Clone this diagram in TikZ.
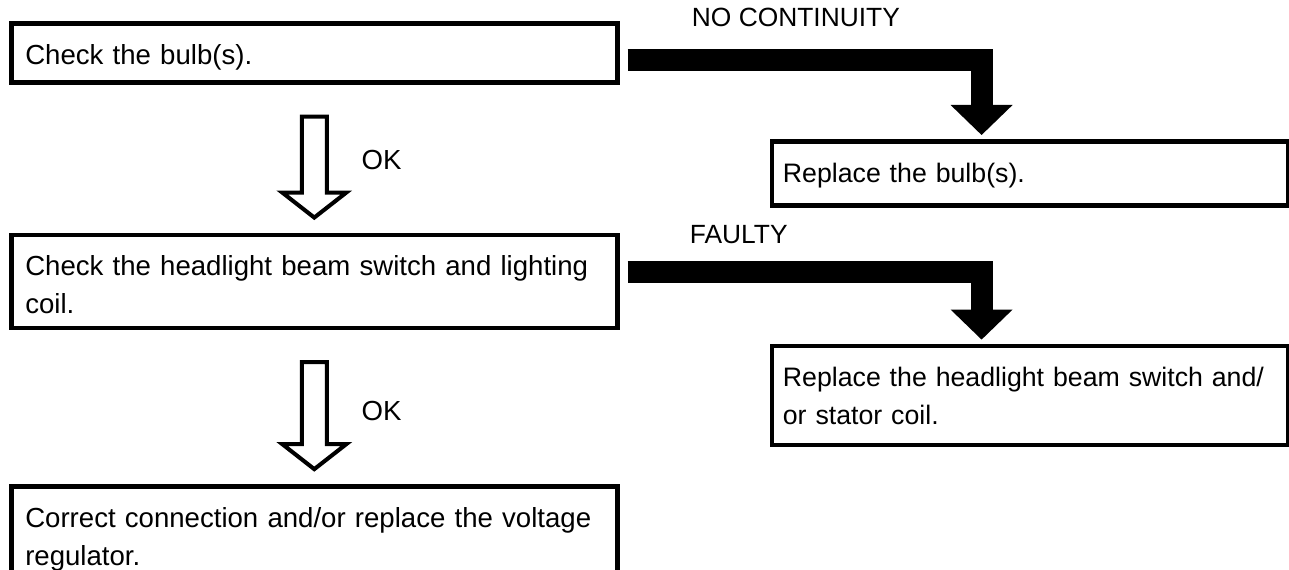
\documentclass[tikz,border=0pt]{standalone}
\usepackage{fontspec}
\setmainfont{Liberation Sans}
\usetikzlibrary{positioning,calc}

\begin{document}
\begin{tikzpicture}[
  x=0.2mm, y=-0.2mm,
  font=\fontsize{15.7}{21.5}\selectfont,
  node distance=29.6mm,
  stepbox/.style={draw, line width=2.6pt, inner xsep=2.8mm, inner ysep=0pt,
                  text width=#1, align=left, text height=8.2mm, text depth=3.6mm},
  stepbox/.default=115.6mm,
  tall/.style={text depth=10.4mm},
  fixbox/.style={stepbox=98.8mm, inner xsep=2.2mm, font=\fontsize{15.2}{21.5}\selectfont},
  oklabel/.style={anchor=west, inner sep=0pt},
  faultlabel/.style={anchor=west, inner sep=0pt, font=\fontsize{15}{18}\selectfont},
  okarrow/.style={draw, line width=2.3pt, fill=white, line join=miter},
  faultbar/.style={draw, line width=12.5pt},
]
\useasboundingbox (0,0) rectangle (1289,570);

%====================== CHECK STEPS ======================
\node[stepbox, anchor=north west] (chkbulb) at (9,21) {Check the bulb(s).};
\node[stepbox, tall, below=of chkbulb] (chkswitch) {Check the headlight beam switch and lighting\\coil.};
\node[stepbox, tall, below=30.8mm of chkswitch] (fixreg) {Correct connection and/or replace the voltage\\regulator.};

%====================== REPAIR STEPS ======================
\node[fixbox, text depth=4.6mm, below right=23.6mm and 30mm of chkbulb.north east] (fixbulb) {Replace the bulb(s).};
\node[fixbox, text depth=11.6mm, below right=22.2mm and 30mm of chkswitch.north east] (fixswitch) {\mbox{Replace the headlight beam switch and/}\\or stator coil.};

%====================== OK ARROWS ======================
\draw[okarrow] ($(chkbulb.south)+(-12.5,32)$) -- ($(chkswitch.north)+(-12.5,-40)$) -- ($(chkswitch.north)+(-32,-40)$)
  -- ($(chkswitch.north)+(0,-15)$) -- ($(chkswitch.north)+(32,-40)$) -- ($(chkswitch.north)+(12.5,-40)$)
  -- ($(chkbulb.south)+(12.5,32)$) -- cycle;
\node[oklabel] (ok1) at ($(chkswitch.north)+(47,-73)$) {OK};

\draw[okarrow] ($(chkswitch.south)+(-12.5,32)$) -- ($(fixreg.north)+(-12.5,-40)$) -- ($(fixreg.north)+(-32,-40)$)
  -- ($(fixreg.north)+(0,-15)$) -- ($(fixreg.north)+(32,-40)$) -- ($(fixreg.north)+(12.5,-40)$)
  -- ($(chkswitch.south)+(12.5,32)$) -- cycle;
\node[oklabel] (ok2) at ($(fixreg.north)+(47,-73)$) {OK};

%====================== FAULT ARROWS ======================
\draw[faultbar] ($(chkbulb.east)+(8,7)$) -| ($(fixbulb.north west)+(212,-34)$);
\fill ($(fixbulb.north west)+(181,-34)$) -- ($(fixbulb.north west)+(243,-34)$) -- ($(fixbulb.north west)+(212,-4)$) -- cycle;
\node[faultlabel] (nocont) at ($(chkbulb.north east)+(72,-4)$) {NO CONTINUITY};

\draw[faultbar] ($(chkswitch.east)+(8,-9)$) -| ($(fixswitch.north west)+(212,-34)$);
\fill ($(fixswitch.north west)+(181,-34)$) -- ($(fixswitch.north west)+(243,-34)$) -- ($(fixswitch.north west)+(212,-4)$) -- cycle;
\node[faultlabel] (faulty) at ($(chkswitch.north east)+(70,2)$) {FAULTY};
\end{tikzpicture}
\end{document}
